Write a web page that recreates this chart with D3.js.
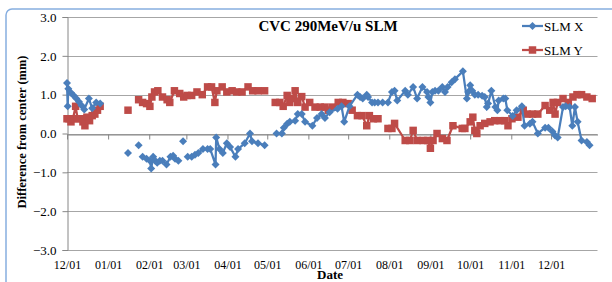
<!DOCTYPE html>
<html><head><meta charset="utf-8">
<script src="https://cdn.jsdelivr.net/npm/d3@7"></script>
<style>
html,body{margin:0;padding:0;background:#fff;}
svg{display:block;}
text{font-family:"Liberation Serif","Times New Roman",serif;fill:#000;}
</style></head>
<body>
<svg id="chart" width="612" height="282"></svg>
<script>
// ---- data (days since 12/01, value in mm; null = break in line) ----
const xDays = [0,0.5,1,3,5,7,9,11,13,16.5,19,22,25,null,46,null,54,null,
  57,60,62.5,63.5,65,66.5,68,70,72,75,78,80,81.5,84,null,87.5,null,
  91,94,96.5,99,102.5,106,108,112,112.5,115,117.5,120.5,123,127,129,134,138,139.5,144,149,null,
  158,162,163.5,166,168,172,174,177,179.5,185,188.5,192,194.5,198,204,207,209,213,219,221,223,226,227,230,232,234.5,238,242,
  245,247,249,255,257,261,264,268,271.5,272.5,274,275.5,277.5,280,283,285,287,290,292.5,298.5,301.5,302.5,304,305.5,307.5,310,313,315,316.5,317.5,320,
  323,324.5,325.5,329,330.5,332,336,339,343,345,349,351,355,360.5,363,366,368,370,374,376,379,381,383,385,388,392,394];
const xVals = [1.3,0.7,1.15,1.05,0.98,0.9,0.82,0.72,0.62,0.9,0.65,0.8,0.77,null,-0.5,null,-0.3,null,
  -0.6,-0.65,-0.7,-0.9,-0.6,-0.7,-0.75,-0.7,-0.7,-0.8,-0.6,-0.57,-0.65,-0.7,null,-0.2,null,
  -0.6,-0.6,-0.55,-0.5,-0.4,-0.4,-0.4,-0.8,-0.1,-0.4,-0.5,-0.25,-0.35,-0.6,-0.4,-0.25,0.0,-0.2,-0.25,-0.3,null,
  0.0,0.0,0.15,0.25,0.3,0.33,0.5,0.5,0.3,0.2,0.4,0.5,0.4,0.55,0.64,0.7,0.3,0.7,1.0,0.94,0.9,1.0,0.94,0.8,0.8,0.8,0.8,0.8,
  1.07,1.1,0.85,1.1,1.0,1.2,0.9,1.2,1.07,0.94,0.8,1.07,1.1,1.1,1.2,1.07,1.2,1.32,1.4,1.6,0.9,1.07,1.24,1.1,1.0,1.0,0.97,0.94,0.68,0.77,1.1,
  0.68,0.6,0.85,0.9,0.9,0.6,0.45,0.6,0.7,0.2,0.25,0.3,0.0,0.15,0.15,0.05,-0.05,-0.1,0.68,0.7,0.68,0.2,0.68,0.3,-0.18,-0.22,-0.3];

const yDays = [0,1.5,3,4.5,6.5,8,10,12,13.5,15,17,19,21,23,25,null,46,null,
  54,57,60,62.5,64,66,68.5,72,75.5,77.5,81,85,88,90.5,94,98,102,106,109,111.5,113,117,120.5,124.5,128,132,136.5,140,144,149,null,
  157,160.5,163,166,168,170,172,174,177,179.5,183,187,191,194.5,197,200,204.5,208,212,215,219,222.5,226,228,231,234.5,null,
  242,245,247,255,258.5,261,264,268.5,272,274,276,279,283,286.5,291,298,300,304,306,307.5,309,311.5,315,319,322.5,326.5,330,332.5,
  335.5,340,344,347,351,355,360.5,364,366.5,368,370,374,378,381.5,384.5,388,392,396];
const yVals = [0.38,0.38,0.3,0.38,0.7,0.38,0.38,0.3,0.2,0.42,0.33,0.46,0.5,0.6,0.7,null,0.6,null,
  0.87,0.8,0.77,0.7,0.94,1.07,1.1,0.94,0.87,0.8,1.1,1.03,0.94,0.98,0.98,1.07,1.0,1.2,1.2,0.8,1.1,1.2,1.07,1.1,1.07,1.07,1.2,1.1,1.1,1.1,null,
  0.8,0.8,0.7,0.98,0.8,0.9,1.1,0.8,0.95,0.68,0.8,0.68,0.68,0.68,0.6,0.68,0.8,0.8,0.77,0.6,0.46,0.46,0.2,0.46,0.38,0.38,null,
  0.13,0.13,0.26,-0.18,-0.18,0.08,-0.18,-0.18,-0.18,-0.38,-0.18,0.0,-0.13,-0.18,0.2,0.13,0.13,0.3,0.42,0.08,0.0,0.2,0.26,0.3,0.33,0.33,0.33,0.2,
  0.38,0.42,0.6,0.5,0.5,0.5,0.72,0.6,0.8,0.5,0.8,0.9,0.8,0.94,1.0,1.0,0.94,0.9];

const yTicks = [-3,-2,-1,0,1,2,3];
const monthLabels = ["12/01","01/01","02/01","03/01","04/01","05/01","06/01","07/01","08/01","09/01","10/01","11/01","12/01"];
const seriesNames = ["SLM X","SLM Y"];
const titleText = "CVC 290MeV/u SLM";
const yLabel = "Difference from center  (mm)";
const xLabel = "Date";

// ---- setup ----
const svg = d3.select("#chart");
const start = new Date(2012, 11, 1);
const dayMs = 86400000;
const toDate = d => new Date(start.getTime() + d * dayMs);
const x = d3.scaleTime().domain([start, toDate(400)]).range([67, 597.5]);
const y = d3.scaleLinear().domain([-3, 3]).range([250, 17]);
const tickDates = monthLabels.map((_, i) => new Date(2012, 11 + i, 1));

const BLUE = "#4a7ebb", RED = "#be4b48";

// outer border
svg.append("rect").attr("x", 6).attr("y", 9).attr("width", 640).attr("height", 320)
  .attr("rx", 6).attr("fill", "none").attr("stroke", "#86aee0").attr("stroke-width", 1.5);

// gridlines
svg.append("g").selectAll("line").data(yTicks).join("line")
  .attr("x1", x.range()[0]).attr("x2", x.range()[1])
  .attr("y1", d => Math.round(y(d)) + 0.5).attr("y2", d => Math.round(y(d)) + 0.5)
  .attr("stroke", "#a6a6a6").attr("stroke-width", 1);

// y axis
const yAxis = svg.append("g").attr("transform", `translate(${x.range()[0] + 0.5},0)`)
  .call(d3.axisLeft(y).tickValues(yTicks).tickFormat(d3.format(".1f")).tickSize(5).tickPadding(6));
yAxis.select(".domain").attr("stroke", "#868686");
yAxis.selectAll(".tick line").attr("stroke", "#868686");
yAxis.selectAll("text").attr("font-size", 13).attr("font-family", "Liberation Serif").attr("fill", "#000");

// x axis line at 0 with ticks
const xAxis0 = svg.append("g").attr("transform", `translate(0,${Math.round(y(0)) + 0.5})`)
  .call(d3.axisBottom(x).tickValues(tickDates).tickFormat("").tickSize(5).tickSizeOuter(0));
xAxis0.select(".domain").attr("stroke", "#868686");
xAxis0.selectAll(".tick line").attr("stroke", "#868686");

// x tick labels at bottom
const xAxisB = svg.append("g").attr("transform", `translate(0,${Math.round(y(-3))})`)
  .call(d3.axisBottom(x).tickValues(tickDates).tickFormat((d, i) => monthLabels[i]).tickSize(0).tickPadding(10));
xAxisB.select(".domain").remove();
xAxisB.selectAll("text").attr("font-size", 12).attr("font-family", "Liberation Serif").attr("fill", "#000");

// series
function build(days, vals) {
  return days.map((d, i) => ({ d: d, v: vals[i] }));
}
const sx = build(xDays, xVals), sy = build(yDays, yVals);
const line = d3.line().defined(p => p.v != null && p.d != null)
  .x(p => x(toDate(p.d))).y(p => y(p.v));

const diamond = { draw(ctx, size) { const r = Math.sqrt(size / 2);
  ctx.moveTo(0, -r); ctx.lineTo(r, 0); ctx.lineTo(0, r); ctx.lineTo(-r, 0); ctx.closePath(); } };

svg.append("path").datum(sy).attr("d", line).attr("fill", "none").attr("stroke", RED).attr("stroke-width", 2.25);
svg.append("g").selectAll("path").data(sy.filter(p => p.v != null)).join("path")
  .attr("d", d3.symbol(d3.symbolSquare, 56))
  .attr("transform", p => `translate(${x(toDate(p.d))},${y(p.v)})`)
  .attr("fill", RED);

svg.append("path").datum(sx).attr("d", line).attr("fill", "none").attr("stroke", BLUE).attr("stroke-width", 2.25);
svg.append("g").selectAll("path").data(sx.filter(p => p.v != null)).join("path")
  .attr("d", d3.symbol(diamond, 32))
  .attr("transform", p => `translate(${x(toDate(p.d))},${y(p.v)})`)
  .attr("fill", BLUE);

// title
svg.append("text").attr("x", 328).attr("y", 31).attr("text-anchor", "middle")
  .attr("font-size", 15).attr("font-weight", "bold").text(titleText);

// axis titles
svg.append("text").attr("transform", "translate(26,132) rotate(-90)").attr("text-anchor", "middle")
  .attr("font-size", 12.5).attr("font-weight", "bold").text(yLabel);
svg.append("text").attr("x", 330).attr("y", 279).attr("text-anchor", "middle")
  .attr("font-size", 13).attr("font-weight", "bold").text(xLabel);

// legend
const legend = svg.append("g");
const legY = [26, 50];
const legColors = [BLUE, RED];
const legSyms = [d3.symbol(diamond, 32), d3.symbol(d3.symbolSquare, 56)];
seriesNames.forEach((name, i) => {
  legend.append("line").attr("x1", 522).attr("x2", 543).attr("y1", legY[i]).attr("y2", legY[i])
    .attr("stroke", legColors[i]).attr("stroke-width", 2.25);
  legend.append("path").attr("d", legSyms[i]()).attr("transform", `translate(532.5,${legY[i]})`).attr("fill", legColors[i]);
  legend.append("text").attr("x", 544).attr("y", legY[i] + 4.5).attr("font-size", 13).text(name);
});
</script>
</body></html>
